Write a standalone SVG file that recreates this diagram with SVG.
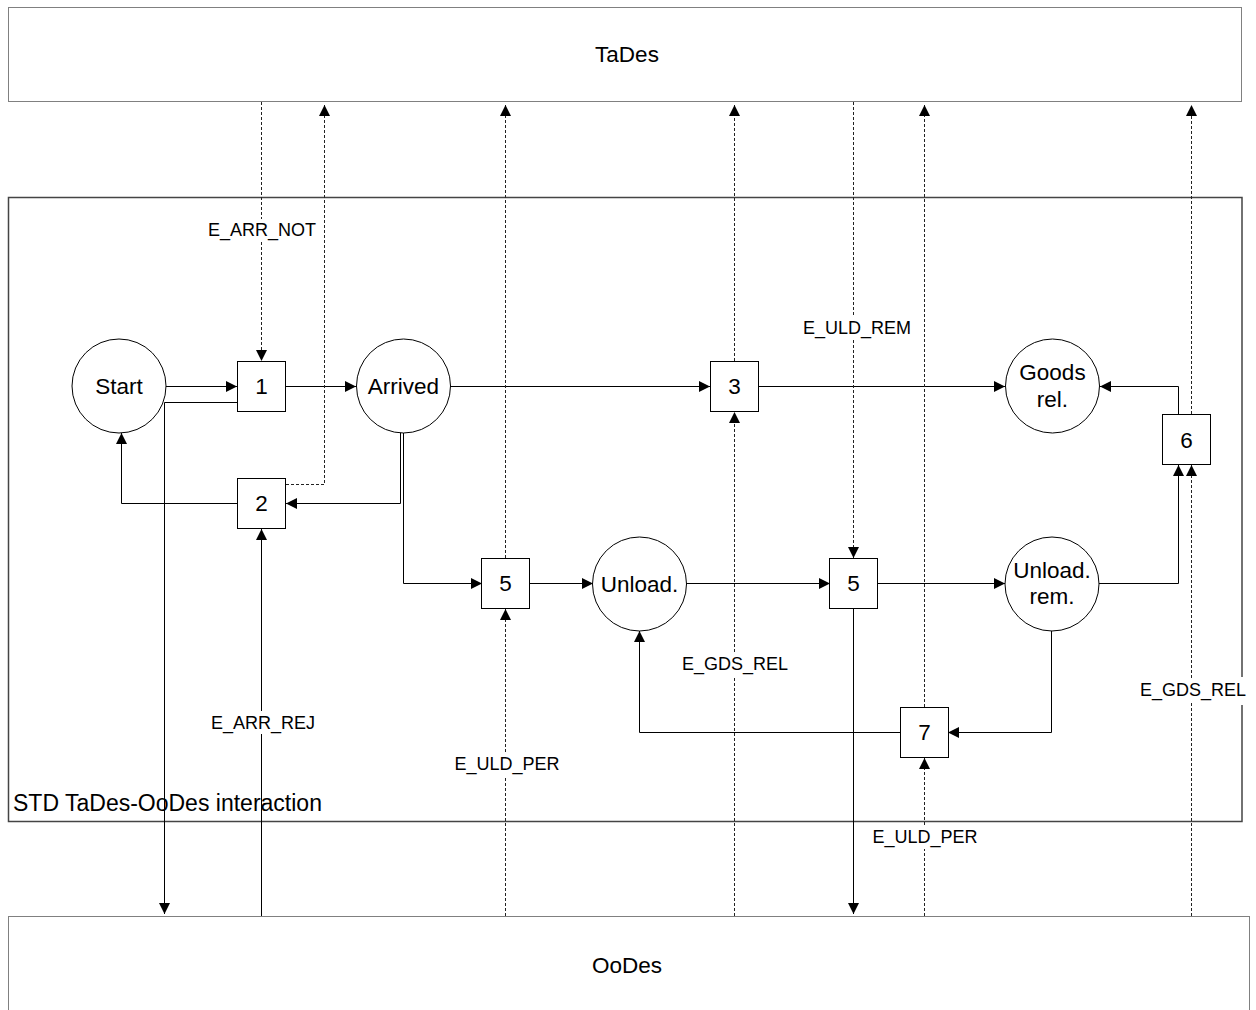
<svg xmlns="http://www.w3.org/2000/svg" width="1256" height="1010" viewBox="0 0 1256 1010">
<style>
  .txt { font-family: "Liberation Sans", Arial, sans-serif; fill: #000; }
  .node { font-size: 22.5px; text-anchor: middle; }
  .ev { font-size: 18px; text-anchor: middle; }
  .st { fill: #fff; stroke: #000; stroke-width: 1; }
  .env { fill: #fff; stroke: #000; stroke-width: 1; stroke-dasharray: 1 1; }
  .frame { fill: none; stroke: #444; stroke-width: 1.5; }
  .c { fill: none; stroke: #000; stroke-width: 1; }
  .d { fill: none; stroke: #222; stroke-width: 1; stroke-dasharray: 3 2; }
</style>
<defs>
  <marker id="ah" markerUnits="userSpaceOnUse" markerWidth="12" markerHeight="12" refX="11" refY="5.5" orient="auto">
    <path d="M0,0 L11,5.5 L0,11 z" fill="#000"/>
  </marker>
</defs>

<g id="TaDes">
  <rect class="env" x="8.5" y="7.5" width="1233" height="94"/>
  <text class="txt node" x="627" y="62">TaDes</text>
</g>
<g id="OoDes">
  <rect class="env" x="8.5" y="916.5" width="1241" height="110"/>
  <text class="txt node" x="627" y="973">OoDes</text>
</g>
<g id="frame">
  <path class="frame" d="M1242,677 V197.5 H8.5 V821.5 H1242 V705"/>
  <text class="txt" x="13" y="811" font-size="23px">STD TaDes-OoDes interaction</text>
</g>

<g id="connectors">
  <path class="c" d="M166,386.5 H237" marker-end="url(#ah)"/>
  <path class="c" d="M286,386.5 H356" marker-end="url(#ah)"/>
  <path class="c" d="M237,402.5 H164.5 V914" marker-end="url(#ah)"/>
  <path class="c" d="M400.5,432 V503.5 H286" marker-end="url(#ah)"/>
  <path class="c" d="M403.5,432 V583.5 H482" marker-end="url(#ah)"/>
  <path class="c" d="M237,503.5 H121.5 V433" marker-end="url(#ah)"/>
  <path class="c" d="M261.5,916 V734"/>
  <path class="c" d="M261.5,711 V529" marker-end="url(#ah)"/>
  <path class="c" d="M450,386.5 H710" marker-end="url(#ah)"/>
  <path class="c" d="M758,386.5 H1005" marker-end="url(#ah)"/>
  <path class="c" d="M529,583.5 H593" marker-end="url(#ah)"/>
  <path class="c" d="M686,583.5 H830" marker-end="url(#ah)"/>
  <path class="c" d="M877,583.5 H1005" marker-end="url(#ah)"/>
  <path class="c" d="M1099,583.5 H1178.5 V465" marker-end="url(#ah)"/>
  <path class="c" d="M1178.5,414 V386.5 H1100" marker-end="url(#ah)"/>
  <path class="c" d="M1051.5,630 V732.5 H948" marker-end="url(#ah)"/>
  <path class="c" d="M900,732.5 H639.5 V631" marker-end="url(#ah)"/>
  <path class="c" d="M853.5,609 V914" marker-end="url(#ah)"/>

  <path class="d" d="M261.5,102 V219"/>
  <path class="d" d="M261.5,242 V361" marker-end="url(#ah)"/>
  <path class="d" d="M286,484.5 H324.5 V105" marker-end="url(#ah)"/>
  <path class="d" d="M505.5,558 V105" marker-end="url(#ah)"/>
  <path class="d" d="M505.5,916 V776"/>
  <path class="d" d="M505.5,752 V609" marker-end="url(#ah)"/>
  <path class="d" d="M734.5,361 V105" marker-end="url(#ah)"/>
  <path class="d" d="M734.5,916 V676"/>
  <path class="d" d="M734.5,652 V412" marker-end="url(#ah)"/>
  <path class="d" d="M853.5,102 V316"/>
  <path class="d" d="M853.5,340 V558" marker-end="url(#ah)"/>
  <path class="d" d="M924.5,707 V105" marker-end="url(#ah)"/>
  <path class="d" d="M924.5,916 V849"/>
  <path class="d" d="M924.5,825 V758" marker-end="url(#ah)"/>
  <path class="d" d="M1191.5,414 V105" marker-end="url(#ah)"/>
  <path class="d" d="M1191.5,916 V702"/>
  <path class="d" d="M1191.5,678 V465" marker-end="url(#ah)"/>

  <text class="txt ev" x="262" y="236">E_ARR_NOT</text>
  <text class="txt ev" x="263" y="729">E_ARR_REJ</text>
  <text class="txt ev" x="507" y="770">E_ULD_PER</text>
  <text class="txt ev" x="735" y="670">E_GDS_REL</text>
  <text class="txt ev" x="857" y="334">E_ULD_REM</text>
  <text class="txt ev" x="925" y="843">E_ULD_PER</text>
  <text class="txt ev" x="1193" y="696">E_GDS_REL</text>
</g>

<g id="start"><circle class="st" cx="119" cy="386" r="47"/><text class="txt node" x="119" y="394">Start</text></g>
<g id="arrived"><circle class="st" cx="403.5" cy="386" r="47"/><text class="txt node" x="403.5" y="394">Arrived</text></g>
<g id="goodsrel"><circle class="st" cx="1052.5" cy="386" r="47"/><text class="txt node" x="1052.5" y="380">Goods</text><text class="txt node" x="1052.5" y="407">rel.</text></g>
<g id="unload"><circle class="st" cx="639.5" cy="584" r="47"/><text class="txt node" x="639.5" y="592">Unload.</text></g>
<g id="unloadrem"><circle class="st" cx="1052" cy="584" r="47"/><text class="txt node" x="1052" y="578">Unload.</text><text class="txt node" x="1052" y="603.5">rem.</text></g>

<g id="t1"><rect class="st" x="237.5" y="361.5" width="48" height="50"/><text class="txt node" x="261.5" y="394">1</text></g>
<g id="t2"><rect class="st" x="237.5" y="478.5" width="48" height="50"/><text class="txt node" x="261.5" y="511">2</text></g>
<g id="t3"><rect class="st" x="710.5" y="361.5" width="48" height="50"/><text class="txt node" x="734.5" y="394">3</text></g>
<g id="t6"><rect class="st" x="1162.5" y="414.5" width="48" height="50"/><text class="txt node" x="1186.5" y="448">6</text></g>
<g id="t5a"><rect class="st" x="481.5" y="558.5" width="48" height="50"/><text class="txt node" x="505.5" y="591">5</text></g>
<g id="t5b"><rect class="st" x="829.5" y="558.5" width="48" height="50"/><text class="txt node" x="853.5" y="591">5</text></g>
<g id="t7"><rect class="st" x="900.5" y="707.5" width="48" height="50"/><text class="txt node" x="924.5" y="740">7</text></g>
</svg>
